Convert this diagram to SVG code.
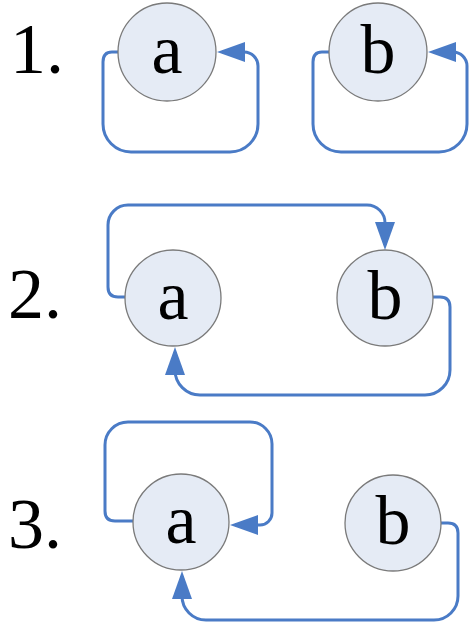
<svg xmlns="http://www.w3.org/2000/svg" width="474" height="625" viewBox="0 0 474 625">
<style>
.node circle{fill:#e5ebf5;stroke:#7a7a7a;stroke-width:1.3}
.node text{font-family:'Liberation Serif',serif;font-size:70px;text-anchor:middle;fill:#000}
.lbl{font-family:'Liberation Serif',serif;font-size:72px;fill:#000}
.edge{fill:none;stroke:#4a7bc6;stroke-width:3;marker-end:url(#arr)}
</style>
<defs>
<marker id="arr" markerUnits="userSpaceOnUse" markerWidth="28" markerHeight="20" refX="23" refY="10" orient="auto">
<path d="M0,0 L28,10 L0,20 z" fill="#4a7bc6"/>
</marker>
</defs>
<text class="lbl" x="10" y="73">1.</text>
<text class="lbl" x="8" y="318">2.</text>
<text class="lbl" x="8" y="548">3.</text>
<g id="connectors">
<path class="edge" d="M118,52 H112 Q103,52 103,62 V124 A28,28 0 0 0 131,152 H230 A28,28 0 0 0 258,124 V66 A14,14 0 0 0 244,52 H222"/>
<path class="edge" d="M329,52 H322 Q313,52 313,62 V124 A28,28 0 0 0 341,152 H439 A28,28 0 0 0 467,124 V66 A14,14 0 0 0 453,52 H433"/>
<path class="edge" d="M125,297 H118 Q108,297 108,287 V225 A20,20 0 0 1 128,205 H367 A18,18 0 0 1 385,223 V245"/>
<path class="edge" d="M433,297 H440 Q450,297 450,307 V370 A25,25 0 0 1 425,395 H200 A25,25 0 0 1 175,370 V352"/>
<path class="edge" d="M133,521 H115 Q105,521 105,511 V445 A23,23 0 0 1 128,422 H250 A22,22 0 0 1 272,444 V513 A12,12 0 0 1 260,525 H235"/>
<path class="edge" d="M441,523 H448 Q458,523 458,533 V596 A24,24 0 0 1 434,620 H206 A24,24 0 0 1 182,596 V576"/>
</g>
<g id="n1a" class="node"><circle cx="167" cy="52" r="49"/><text x="167" y="73">a</text></g>
<g id="n1b" class="node"><circle cx="378" cy="52" r="49"/><text x="378" y="73">b</text></g>
<g id="n2a" class="node"><circle cx="173" cy="298" r="48"/><text x="173" y="319">a</text></g>
<g id="n2b" class="node"><circle cx="385" cy="298" r="48"/><text x="385" y="319">b</text></g>
<g id="n3a" class="node"><circle cx="181" cy="522" r="48"/><text x="181" y="543">a</text></g>
<g id="n3b" class="node"><circle cx="393" cy="523" r="48"/><text x="393" y="544">b</text></g>
</svg>
